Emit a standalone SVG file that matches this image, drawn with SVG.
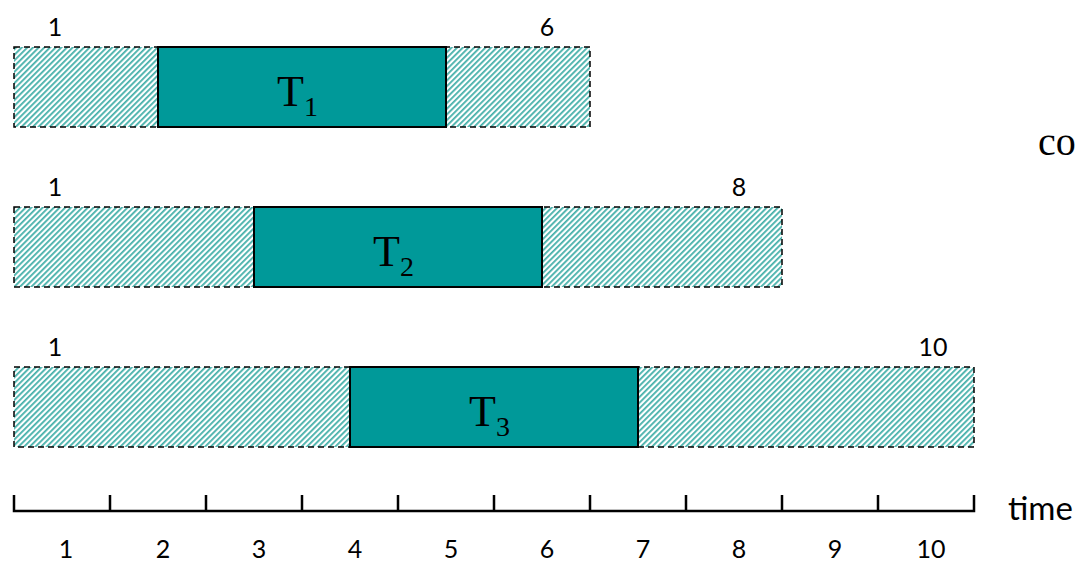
<svg xmlns="http://www.w3.org/2000/svg" width="1086" height="562" viewBox="0 0 1086 562">
<defs>
<pattern id="hatch" patternUnits="userSpaceOnUse" width="4" height="4" patternTransform="rotate(45)">
<rect width="4" height="4" fill="#ffffff"/>
<rect x="0" y="0" width="1.8" height="4" fill="#45b0aa"/>
</pattern>
</defs>
<style>
.win{fill:url(#hatch);stroke:#000;stroke-width:1.5;stroke-dasharray:6,4}
.task{fill:#009999;stroke:#000;stroke-width:2}
.num{font-family:Lato,"Liberation Sans",sans-serif;font-size:25px;fill:#000}
.tl{font-family:"Liberation Serif",serif;font-size:44px;fill:#000}
.sub{font-size:28px}
.axis{stroke:#000;stroke-width:2.5;fill:none}
</style>
<g id="row1">
<rect class="win" x="14" y="47" width="576" height="80"/>
<rect class="task" x="158" y="47" width="288" height="80"/>
<text class="tl" x="277" y="106">T<tspan class="sub" dy="10">1</tspan></text>
<text class="num" x="55" y="36" text-anchor="middle">1</text>
<text class="num" x="547" y="36" text-anchor="middle">6</text>
</g>
<g id="row2">
<rect class="win" x="14" y="207" width="768" height="80"/>
<rect class="task" x="254" y="207" width="288" height="80"/>
<text class="tl" x="373" y="266">T<tspan class="sub" dy="10">2</tspan></text>
<text class="num" x="55" y="196" text-anchor="middle">1</text>
<text class="num" x="739" y="196" text-anchor="middle">8</text>
</g>
<g id="row3">
<rect class="win" x="14" y="367" width="960" height="80"/>
<rect class="task" x="350" y="367" width="288" height="80"/>
<text class="tl" x="469" y="426">T<tspan class="sub" dy="10">3</tspan></text>
<text class="num" x="55" y="356" text-anchor="middle">1</text>
<text class="num" x="933" y="356" text-anchor="middle">10</text>
</g>
<g id="axis">
<path class="axis" d="M14,495 V511 H974 V495 M110,495 V511 M206,495 V511 M302,495 V511 M398,495 V511 M494,495 V511 M590,495 V511 M686,495 V511 M782,495 V511 M878,495 V511"/>
<text class="num" x="66" y="558" text-anchor="middle">1</text>
<text class="num" x="163" y="558" text-anchor="middle">2</text>
<text class="num" x="259" y="558" text-anchor="middle">3</text>
<text class="num" x="355" y="558" text-anchor="middle">4</text>
<text class="num" x="451" y="558" text-anchor="middle">5</text>
<text class="num" x="547" y="558" text-anchor="middle">6</text>
<text class="num" x="643" y="558" text-anchor="middle">7</text>
<text class="num" x="739" y="558" text-anchor="middle">8</text>
<text class="num" x="835" y="558" text-anchor="middle">9</text>
<text class="num" x="931" y="558" text-anchor="middle">10</text>
<text x="1008" y="520" style="font-family:Lato,'Liberation Sans',sans-serif;font-size:33px;fill:#000">time</text>
</g>
<text x="1038" y="155" style="font-family:'Liberation Serif',serif;font-size:40px;fill:#000">co</text>
</svg>
